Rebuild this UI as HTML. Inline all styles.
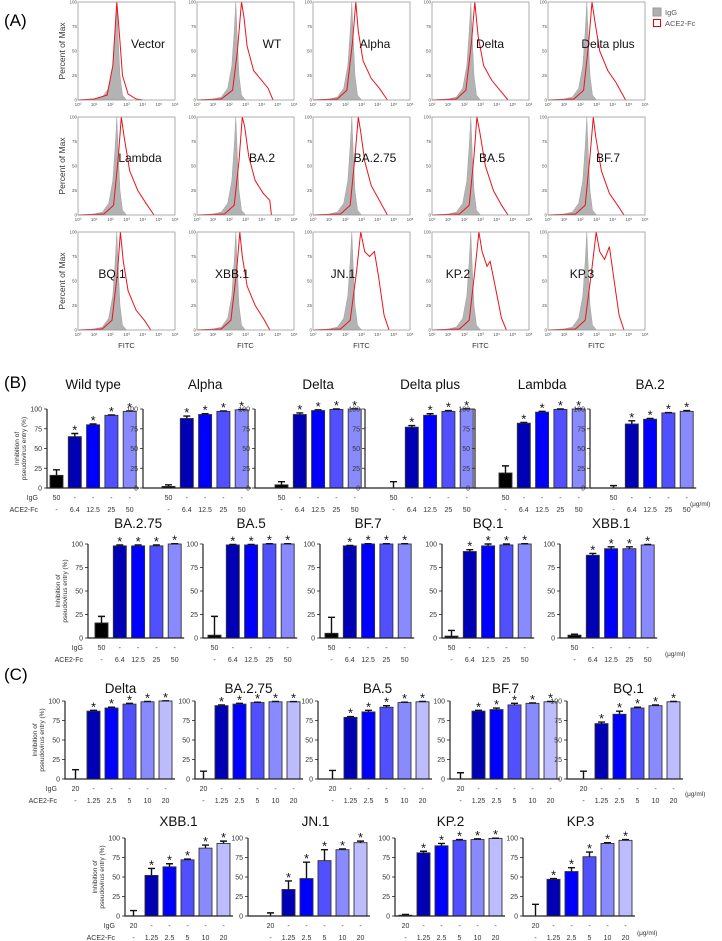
<!DOCTYPE html>
<html><head><meta charset="utf-8"><style>
html,body{margin:0;padding:0;background:#fff;}
svg{display:block;font-family:"Liberation Sans",Arial,sans-serif;}
</style></head><body>
<svg id="fig" width="722" height="941" viewBox="0 0 722 941" xmlns="http://www.w3.org/2000/svg">
<text x="4" y="26" font-size="17">(A)</text>
<text x="4" y="388" font-size="17">(B)</text>
<text x="4" y="680" font-size="17">(C)</text>
<g>
<rect x="653" y="8" width="8" height="8" fill="#b0b0b0" stroke="#999"/>
<text x="665" y="15" font-size="7.5" fill="#555">IgG</text>
<rect x="653.5" y="19.5" width="7" height="7" fill="none" stroke="#e00"/>
<text x="665" y="26" font-size="7.5" fill="#555">ACE2-Fc</text>
</g>
<g id="hist"></g>
<g id="bars"></g>
</svg>
<script>
const NS="http://www.w3.org/2000/svg";
function mk(tag,attrs,parent,txt){const e=document.createElementNS(NS,tag);for(const k in attrs)e.setAttribute(k,attrs[k]);if(txt!==undefined)e.textContent=txt;parent.appendChild(e);return e;}

// ===== Panel A data =====
const histNames=["Vector","WT","Alpha","Delta","Delta plus","Lambda","BA.2","BA.2.75","BA.5","BF.7","BQ.1","XBB.1","JN.1","KP.2","KP.3"];
const iggCurve=[[0,0],[1,1],[1.5,3],[1.9,12],[2.15,35],[2.3,70],[2.4,100],[2.5,60],[2.6,25],[2.75,5],[3,0]];
const redCurves=[
 [[0,0],[1,1],[1.8,5],[2.15,35],[2.4,100],[2.55,70],[2.75,25],[3.1,6],[3.6,1],[4,0]],
 [[0,0],[1.5,1],[2.2,10],[2.5,50],[2.75,100],[2.9,85],[3.1,55],[3.5,30],[4,20],[4.4,12],[4.7,0]],
 [[0,0],[1.5,1],[2.1,10],[2.45,60],[2.65,100],[2.8,70],[3.1,40],[3.6,22],[4.1,12],[4.6,0]],
 [[0,0],[1.5,1],[2.1,10],[2.45,60],[2.65,100],[2.85,65],[3.2,35],[3.7,20],[4.2,10],[4.7,0]],
 [[0,0],[1.6,1],[2.2,10],[2.5,55],[2.72,100],[2.9,80],[3.2,50],[3.7,30],[4.2,18],[4.8,0]],
 [[0,0],[1.6,1],[2.2,10],[2.5,60],[2.68,100],[2.85,80],[3.2,45],[3.7,25],[4.2,12],[4.7,0]],
 [[0,0],[1.7,1],[2.3,10],[2.6,55],[2.8,100],[2.95,90],[3.2,60],[3.6,35],[4.1,22],[4.5,15],[4.6,0]],
 [[0,0],[1.7,1],[2.3,10],[2.6,60],[2.8,100],[2.95,85],[3.2,55],[3.6,30],[4.1,15],[4.6,0]],
 [[0,0],[1.7,1],[2.3,10],[2.6,60],[2.78,100],[2.95,85],[3.3,50],[3.8,25],[4.3,10],[4.7,0]],
 [[0,0],[1.7,1],[2.3,10],[2.6,60],[2.8,100],[2.95,80],[3.3,45],[3.8,22],[4.3,10],[4.7,0]],
 [[0,0],[1.5,1],[2.1,10],[2.45,60],[2.62,100],[2.8,70],[3.1,40],[3.6,20],[4.1,10],[4.5,0]],
 [[0,0],[1.5,1],[2.1,10],[2.45,60],[2.65,100],[2.8,75],[3.1,45],[3.6,25],[4.1,12],[4.5,0]],
 [[0,0],[1.7,1],[2.3,10],[2.7,60],[2.95,100],[3.2,80],[3.5,75],[3.8,80],[4.05,55],[4.4,15],[4.7,0]],
 [[0,0],[1.7,1],[2.3,10],[2.65,60],[2.9,100],[3.1,80],[3.4,65],[3.6,70],[3.9,45],[4.3,12],[4.6,0]],
 [[0,0],[1.7,1],[2.3,10],[2.7,60],[2.98,100],[3.2,80],[3.5,72],[3.8,85],[4.05,55],[4.4,15],[4.7,0]]
];
const histTicks=["10⁰","10¹","10²","10³","10⁴","10⁵","10⁶"];
const yTicksHist=["0","25","50","75","100"];

const colX=[78,197,313,432,548], rowY=[2,117,232], HW=97, HH=98;
const labelX=[[148,272,375,490,608],[140,262,375,492,608],[112,232,343,458,582]];
const labelY=[48,162,278];
const hg=document.getElementById('hist');
for(let r=0;r<3;r++){
 for(let c=0;c<5;c++){
  const i=r*5+c, x0=colX[c], y0=rowY[r];
  const g=mk('g',{},hg);
  
  
  const sx=v=>x0+v/6*HW, sy=v=>y0+HH-v/100*HH;
  const pth=pts=>pts.map((p,k)=>(k?'L':'M')+sx(p[0]).toFixed(1)+','+sy(p[1]).toFixed(1)).join('');
  const gp=mk('path',{d:pth(iggCurve)+'Z',fill:'#b3b3b3',stroke:'#a0a0a0','stroke-width':0.5},g);
  
  
  const rp=mk('path',{d:pth(redCurves[i]),fill:'none',stroke:'#e8141c','stroke-width':1},g);
  
  
  const fr=mk('rect',{x:x0,y:y0,width:HW,height:HH,fill:'none',stroke:'#999','stroke-width':0.8},g);
  
  
  histTicks.forEach((t,k)=>{const e=mk('text',{x:sx(k),y:y0+HH+6,'font-size':4.5,'text-anchor':'middle',fill:'#555'},g,t);
    });
  yTicksHist.forEach((t,k)=>{const e=mk('text',{x:x0-1,y:sy(k*25)+1.5,'font-size':4.5,'text-anchor':'end',fill:'#555'},g,t);
    });
  const lb=mk('text',{x:labelX[r][c],y:labelY[r],'font-size':12,'text-anchor':'middle',fill:'#111'},g,histNames[i]);
  
  
  if(c===0){const yl=mk('text',{transform:`translate(65,${y0+HH/2}) rotate(-90)`,'font-size':8.5,'text-anchor':'middle',fill:'#333'},g,'Percent of Max');
    }
  if(r===2){const xl=mk('text',{x:x0+HW/2,y:348,'font-size':7.5,'text-anchor':'middle',fill:'#333'},g,'FITC');
    }
 }
}

// ===== Panel B/C bar data =====
const b1Titles=["Wild type","Alpha","Delta","Delta plus","Lambda","BA.2"];
const b1Values=[[16,65,80,92,97],[2,88,93,97,99],[4,93,98,99.5,100],[0,77,92,97,100],[19,82,96,99.5,100],[0,81,87,95,97]];
const b1Errors=[[7,4,1,0.5,0.5],[2,3,1,0.5,0.5],[4,2,1,0.5,0.3],[8,2,2,1,0.3],[9,1,1,0.5,0.3],[3,4,1,0.5,1]];
const b2Titles=["BA.2.75","BA.5","BF.7","BQ.1","XBB.1"];
const b2Values=[[16,98,98,98,100],[3,99,99,100,100],[5,98,100,100,100],[2,92,98,99,100],[3,88,95,95,99]];
const b2Errors=[[7,1,1,1,0.3],[20,0.5,0.5,0.3,0.3],[17,0.5,0.3,0.3,0.3],[6,2,2,1,0.3],[1,2,2,2,0.5]];
const bIgG=["50","-","-","-","-"];
const bAce=["-","6.4","12.5","25","50"];
const c1Titles=["Delta","BA.2.75","BA.5","BF.7","BQ.1"];
const c1Values=[[0,87,91,96,99,100],[0,94,96,98,99,99],[0,79,86,92,98,99],[0,87,89,95,97,99],[0,71,83,91,94,99]];
const c1Errors=[[12,1,1,1,0.5,0.3],[10,1,1,0.5,0.5,0.3],[11,1,2,2,0.5,0.5],[8,1,2,2,0.5,0.5],[10,2,4,1,1,0.5]];
const c2Titles=["XBB.1","JN.1","KP.2","KP.3"];
const c2Values=[[0,52,63,72,87,93],[0,34,48,71,85,94],[1,81,90,97,98,99.5],[0,47,57,76,93,97]];
const c2Errors=[[7,9,4,1,4,3],[4,11,21,14,1,2],[1,2,3,1,1,0.3],[15,1,5,6,1,1]];
const cIgG=["20","-","-","-","-","-"];
const cAce=["-","1.25","2.5","5","10","20"];
const yTicks=["0","25","50","75","100"];

const colsB=["#000","#0000b4","#0000ff","#5050ff","#8a8aff"];
const colsC=["#000","#0000b4","#0000ff","#5050ff","#8a8aff","#bcbcff"];

const rows=[
 {titles:b1Titles,vals:b1Values,errs:b1Errors,igg:bIgG,ace:bAce,cols:colsB,axes:[47,143,255,365,475,590],starts:[50,162,275,387,499,607],top:409,base:488,titleY:389,iggY:500,aceY:512,unitX:690,unitY:506,pitch:18.3,bw:13,id:'b1'},
 {titles:b2Titles,vals:b2Values,errs:b2Errors,igg:bIgG,ace:bAce,cols:colsB,axes:[88,203,320,442,560],starts:[95,208,325,445,568],top:544,base:638,titleY:528,iggY:650,aceY:662,unitX:665,unitY:656,pitch:18.3,bw:13,id:'b2'},
 {titles:c1Titles,vals:c1Values,errs:c1Errors,igg:cIgG,ace:cAce,cols:colsC,axes:[65,195,318,450,567],starts:[69,197,326,454,577],top:701,base:779,titleY:693,iggY:791,aceY:803,unitX:685,unitY:796,pitch:18,bw:13,id:'c1'},
 {titles:c2Titles,vals:c2Values,errs:c2Errors,igg:cIgG,ace:cAce,cols:colsC,axes:[125,248,395,523],starts:[127,264,399,529],top:838,base:916,titleY:826,iggY:928,aceY:940,unitX:637,unitY:935,pitch:18,bw:13,id:'c2'}
];
const bg=document.getElementById('bars');
rows.forEach(R=>{
 R.titles.forEach((title,ci)=>{
  const g=mk('g',{},bg);
  
  
  const ax=R.axes[ci], st=R.starts[ci], n=R.vals[ci].length;
  const sy=v=>R.base-v/100*(R.base-R.top);
  const endX=st+(n-1)*R.pitch+R.bw+3;
  const tt=mk('text',{x:(st+endX-3)/2,y:R.titleY,'font-size':13.5,'text-anchor':'middle',fill:'#111'},g,title);
  
  
  R.vals[ci].forEach((v,k)=>{
   const x=st+k*R.pitch, y=sy(v);
   const b=mk('rect',{x:x,y:y,width:R.bw,height:Math.max(0,R.base-y),fill:R.cols[k],stroke:'#333','stroke-width':0.9},g);
   
   
   const et=sy(v+R.errs[ci][k]), cx=x+R.bw/2;
   const el=mk('path',{d:`M${cx},${y}L${cx},${et}M${cx-3.5},${et}L${cx+3.5},${et}`,stroke:'#111','stroke-width':1.4,fill:'none'},g);
   
   
   if(k>0){const s=mk('text',{x:cx,y:et+1,'font-size':13,'text-anchor':'middle',fill:'#111'},g,'*');
     }
   const t1=mk('text',{x:cx,y:R.iggY,'font-size':7,'text-anchor':'middle',fill:'#333'},g,R.igg[k]);
    
   const t2=mk('text',{x:cx,y:R.aceY,'font-size':7,'text-anchor':'middle',fill:'#333'},g,R.ace[k]);
    
  });
  const axl=mk('path',{d:`M${ax},${R.top}L${ax},${R.base}L${endX},${R.base}`,stroke:'#222','stroke-width':1.2,fill:'none'},g);
  
  
  yTicks.forEach((t,k)=>{
   const yy=sy(k*25);
   const tk=mk('line',{x1:ax-3,x2:ax,y1:yy,y2:yy,stroke:'#222','stroke-width':0.8},g);
    
   const tl=mk('text',{x:ax-5,y:yy+2.5,'font-size':7,'text-anchor':'end',fill:'#333'},g,t);
    
  });
  if(ci===0){
   const my=(R.top+R.base)/2, lx=ax-28;
   const y1=mk('text',{transform:`translate(${lx},${my}) rotate(-90)`,'font-size':6.5,'text-anchor':'middle',fill:'#333'},g,'Inhibition of');
    
   const y2=mk('text',{transform:`translate(${lx+7},${my}) rotate(-90)`,'font-size':6.5,'text-anchor':'middle',fill:'#333'},g,'pseudovirus entry (%)');
    
   const r1=mk('text',{x:st-12,y:R.iggY,'font-size':7,'text-anchor':'end',fill:'#333'},g,'IgG');
    
   const r2=mk('text',{x:st-12,y:R.aceY,'font-size':7,'text-anchor':'end',fill:'#333'},g,'ACE2-Fc');
    
  }
 });
 const u=mk('text',{x:R.unitX,y:R.unitY,'font-size':6.5,fill:'#333'},bg,'(μg/ml)');
 
 
});
</script>
</body></html>
